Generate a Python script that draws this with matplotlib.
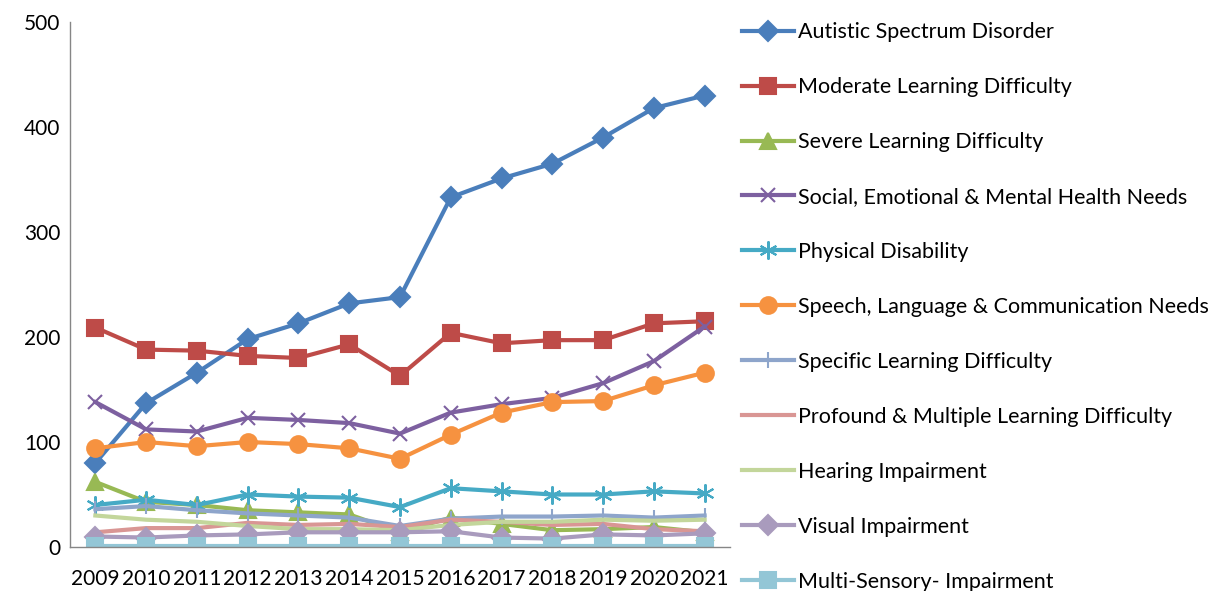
import numpy as np
import matplotlib
matplotlib.use("Agg")
import matplotlib.pyplot as plt

plt.rcParams['font.family'] = ['Lato', 'DejaVu Sans']

years = [2009, 2010, 2011, 2012, 2013, 2014, 2015, 2016, 2017, 2018, 2019, 2020, 2021]

asd = [80, 137, 166, 198, 213, 232, 238, 333, 351, 365, 390, 418, 430]
mld = [209, 188, 187, 182, 180, 193, 163, 204, 194, 197, 197, 213, 215]
sld = [62, 43, 40, 35, 33, 31, 14, 28, 22, 16, 17, 19, 14]
semh = [138, 112, 110, 123, 121, 118, 108, 128, 136, 142, 156, 177, 210]
pd_ = [40, 45, 40, 50, 48, 47, 38, 56, 53, 50, 50, 53, 51]
slcn = [94, 100, 96, 100, 98, 94, 84, 107, 128, 138, 139, 154, 166]
spld = [36, 39, 35, 32, 30, 28, 20, 27, 29, 29, 30, 28, 30]
pmld = [14, 18, 18, 23, 21, 22, 19, 26, 24, 21, 22, 17, 15]
hi = [30, 26, 24, 20, 17, 17, 16, 21, 24, 24, 26, 25, 26]
vi = [10, 9, 11, 12, 14, 14, 14, 15, 9, 8, 12, 11, 13]
msi = [1, 1, 1, 1, 1, 1, 1, 1, 1, 1, 1, 1, 1]

series = [
    ("Autistic Spectrum Disorder", asd, "#4A7EBB", "D", 10),
    ("Moderate Learning Difficulty", mld, "#BE4B48", "s", 11),
    ("Severe Learning Difficulty", sld, "#98B954", "^", 11),
    ("Social, Emotional & Mental Health Needs", semh, "#7D60A0", "x", 10),
    ("Physical Disability", pd_, "#46AAC5", (6, 2, 0), 13),
    ("Speech, Language & Communication Needs", slcn, "#F69240", "o", 12),
    ("Specific Learning Difficulty", spld, "#8EA5CB", "|", 12),
    ("Profound & Multiple Learning Difficulty", pmld, "#D99694", None, 0),
    ("Hearing Impairment", hi, "#C3D69B", None, 0),
    ("Visual Impairment", vi, "#A99BBD", "D", 10),
    ("Multi-Sensory- Impairment", msi, "#93C6D6", "s", 12),
]

fig = plt.figure(figsize=(12.16, 5.91), dpi=100)
ax = fig.add_axes([70 / 1216, 44 / 591, 660 / 1216, 525 / 591])

x = np.arange(len(years))
for name, vals, col, mk, ms in series:
    ax.plot(x, vals, color=col, lw=3, marker=mk, markersize=ms,
            markerfacecolor=col, markeredgecolor=col, markeredgewidth=1.5,
            label=name)

ax.set_xlim(-0.5, len(years) - 0.5)
ax.set_ylim(0, 500)
ax.set_xticks(x)
ax.set_xticklabels([str(y) for y in years])
ax.set_yticks([0, 100, 200, 300, 400, 500])
ax.tick_params(length=0, labelsize=15, colors="black")
ax.tick_params(axis="y", pad=7)
ax.tick_params(axis="x", pad=16)
for s in ["top", "right"]:
    ax.spines[s].set_visible(False)
for s in ["left", "bottom"]:
    ax.spines[s].set_color("#868686")
    ax.spines[s].set_linewidth(1)

fig.legend(loc="upper left", bbox_to_anchor=(727 / 1216, 1 - 7 / 591), frameon=False,
           fontsize=15.5, labelspacing=1.625, handlelength=2.4, handletextpad=0.2,
           borderaxespad=0.3)

fig.savefig("out.png", dpi=100)
